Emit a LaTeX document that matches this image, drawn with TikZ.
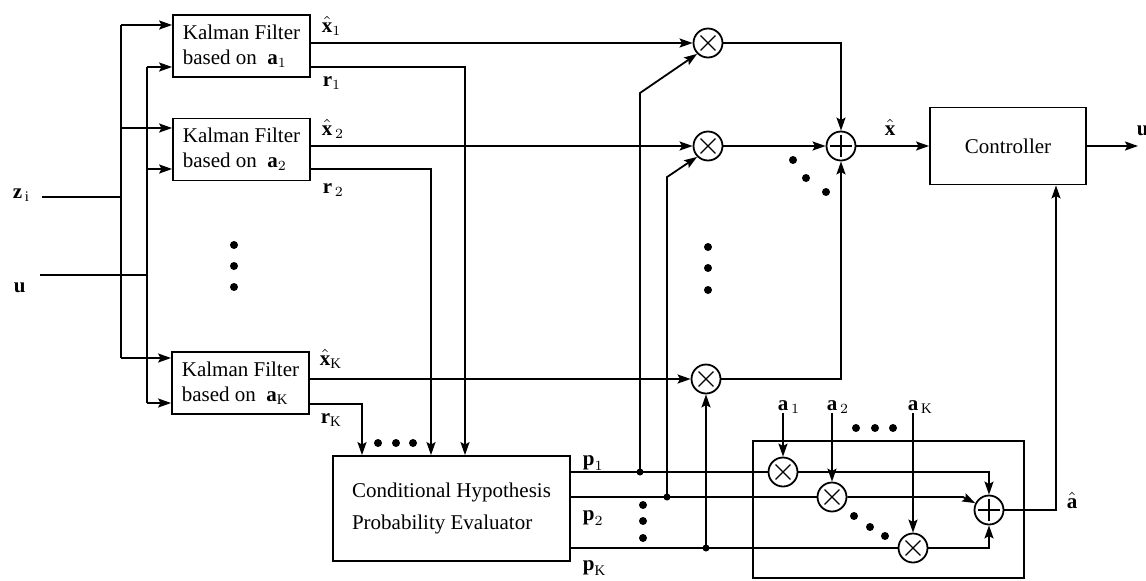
\documentclass[tikz,border=0pt]{standalone}
\usepackage{amsmath}
\usepackage{fontspec}
\setmainfont{Liberation Serif}
\usepackage{tikz}
\usetikzlibrary{shapes.geometric, arrows.meta, positioning}

\begin{document}
\begin{tikzpicture}[x=0.5pt, y=-0.5pt, line width=0.9pt, every node/.style={font=\fontsize{10.5}{12.5}\selectfont}]
        \tikzstyle{filter} = [rectangle, minimum width=68.5pt, minimum height=31pt, align=left, inner xsep=2.5pt, draw=black]
        \tikzstyle{block} = [rectangle, text centered, draw=black]
        \tikzstyle{mult} = [circle, minimum size=14.5pt, inner sep=0pt, draw=black, path picture={\draw[semithick] ([shift={(-3.7pt,-3.7pt)}]path picture bounding box.center) -- ([shift={(3.7pt,3.7pt)}]path picture bounding box.center); \draw[semithick] ([shift={(-3.7pt,3.7pt)}]path picture bounding box.center) -- ([shift={(3.7pt,-3.7pt)}]path picture bounding box.center);}]
        \tikzstyle{summer} = [circle, minimum size=14.5pt, inner sep=0pt, draw=black, path picture={\draw ([xshift=-5.5pt]path picture bounding box.center) -- ([xshift=5.5pt]path picture bounding box.center); \draw ([yshift=-5.5pt]path picture bounding box.center) -- ([yshift=5.5pt]path picture bounding box.center);}]
        \tikzstyle{lbl} = [inner sep=0pt, anchor=base west]
        \tikzstyle{arrow} = [->,>={Stealth[length=6.5pt,width=4.5pt,inset=1.2pt]}]

        \useasboundingbox (0,0) rectangle (1146,580);

        \node (kf1) [filter] at (241.5,46) {Kalman Filter\\based on\ \ $\textbf{a}_1$};
        \node (kf2) [filter] at (241.5,149.5) {Kalman Filter\\based on\ \ $\textbf{a}_2$};
        \node (kfK) [filter] at (240.5,383) {Kalman Filter\\based on\ \ $\textbf{a}_{\mathrm{K}}$};
        \node (chpe) [block, minimum width=118.5pt, minimum height=52.5pt, align=left] at (451.5,508.5) {Conditional Hypothesis\\[3.5pt]Probability Evaluator};
        \node (ctrl) [block, minimum width=78pt, minimum height=38.5pt] at (1008,146) {Controller};

        \node (m1) [mult] at (708,43) {};
        \node (m2) [mult] at (708,146) {};
        \node (mK) [mult] at (706,379) {};
        \node (sum) [summer] at (841,146) {};

        \node (am1) [mult] at (783,472) {};
        \node (am2) [mult] at (832,497) {};
        \node (amK) [mult] at (913,548) {};
        \node (asum) [summer] at (989,510) {};
        \draw (753,441) rectangle (1024,578);

        \coordinate (zin) at (42,197);
        \coordinate (uin) at (40,275);
        \coordinate (zb1) at (121,25);
        \coordinate (zb2) at (121,128);
        \coordinate (zbK) at (121,358);
        \coordinate (ub1) at (147,67);
        \coordinate (ub2) at (147,169);
        \coordinate (ubK) at (147,403);
        \coordinate (r1) at (465,67);
        \coordinate (r2) at (431,169);
        \coordinate (rK) at (362,404);
        \coordinate (j1) at (640,472);
        \coordinate (j2) at (667,497);
        \coordinate (jK) at (706,548);
        \coordinate (b1) at (640,93);
        \coordinate (b2) at (667,177);
        \coordinate (xs) at (841,43);
        \coordinate (xsK) at (841,379);
        \coordinate (uout) at (1138,146);
        \coordinate (a1) at (783,413);
        \coordinate (a2) at (832,413);
        \coordinate (aK) at (913,413);
        \coordinate (as1) at (989,472);
        \coordinate (as2) at (963,497);
        \coordinate (asK) at (989,548);
        \coordinate (ah) at (1056,510);

        \draw (zin) -- (zin -| zb1);
        \draw (zb1) -- (zbK);
        \draw [arrow] (zb1) -- (zb1 -| kf1.west);
        \draw [arrow] (zb2) -- (zb2 -| kf2.west);
        \draw [arrow] (zbK) -- (zbK -| kfK.west);
        \draw (uin) -- (uin -| ub1);
        \draw (ub1) -- (ubK);
        \draw [arrow] (ub1) -- (ub1 -| kf1.west);
        \draw [arrow] (ub2) -- (ub2 -| kf2.west);
        \draw [arrow] (ubK) -- (ubK -| kfK.west);

        \draw [arrow] (kf1.east |- m1) -- (m1);
        \draw [arrow] (kf2.east |- m2) -- (m2);
        \draw [arrow] (kfK.east |- mK) -- (mK);
        \draw [arrow] (kf1.east |- r1) -- (r1) -- (r1 |- chpe.north);
        \draw [arrow] (kf2.east |- r2) -- (r2) -- (r2 |- chpe.north);
        \draw [arrow] (kfK.east |- rK) -- (rK) -- (rK |- chpe.north);

        \draw (chpe.east |- j1) -- (am1);
        \draw (chpe.east |- j2) -- (am2);
        \draw (chpe.east |- jK) -- (amK);
        \draw [arrow] (j1) -- (b1) -- (m1.south west);
        \draw [arrow] (j2) -- (b2) -- (m2.south west);
        \draw [arrow] (jK) -- (mK);
        \fill (j1) circle (3.5) (j2) circle (3.5) (jK) circle (3.5);

        \draw [arrow] (m1) -- (xs) -- (sum);
        \draw [arrow] (m2) -- (sum);
        \draw [arrow] (mK) -- (xsK) -- (sum);
        \draw [arrow] (sum) -- (ctrl);
        \draw [arrow] (ctrl) -- (uout);

        \draw [arrow] (a1) -- (am1);
        \draw [arrow] (a2) -- (am2);
        \draw [arrow] (aK) -- (amK);
        \draw [arrow] (am1) -- (as1) -- (asum);
        \draw [arrow] (am2) -- (as2) -- (asum);
        \draw [arrow] (amK) -- (asK) -- (asum);
        \draw [arrow] (asum) -- (ah) -- (ah |- ctrl.south);

        \fill (234,245) circle (4) (234,266) circle (4) (234,287) circle (4);
        \fill (378,443) circle (4) (396,443) circle (4) (413,443) circle (4);
        \fill (643,505) circle (4) (643,521) circle (4) (643,538) circle (4);
        \fill (708,247) circle (4) (708,268) circle (4) (708,290) circle (4);
        \fill (793,160) circle (4) (806,178) circle (4) (826,192) circle (4);
        \fill (856,428) circle (4) (875,428) circle (4) (893,428) circle (4);
        \fill (854,516) circle (4) (870,527) circle (4) (885,536) circle (4);

        \node (lz) [lbl] at (12,198) {$\textbf{z}_{\,\mathrm{i}}$};
        \node (lu) [lbl] at (13,292) {\textbf{u}};
        \node (lx1) [lbl] at (321,32) {$\hat{\textbf{x}}_1$};
        \node (lr1) [lbl] at (322,86) {$\textbf{r}_1$};
        \node (lx2) [lbl] at (321,135) {$\hat{\textbf{x}}_{\,2}$};
        \node (lr2) [lbl] at (322,193) {$\textbf{r}_{\,2}$};
        \node (lxK) [lbl] at (319,365) {$\hat{\textbf{x}}_{\mathrm{K}}$};
        \node (lrK) [lbl] at (320,423) {$\textbf{r}_{\mathrm{K}}$};
        \node (lp1) [lbl] at (582,465) {$\textbf{p}_1$};
        \node (lp2) [lbl] at (582,520) {$\textbf{p}_2$};
        \node (lpK) [lbl] at (582,570) {$\textbf{p}_{\mathrm{K}}$};
        \node (lx) [lbl] at (884,135) {$\hat{\textbf{x}}$};
        \node (luo) [lbl] at (1136,135) {\textbf{u}};
        \node (lah) [lbl] at (1066,508) {$\hat{\textbf{a}}$};
        \node (la1) [lbl] at (777,410) {$\textbf{a}_{\,1}$};
        \node (la2) [lbl] at (826,410) {$\textbf{a}_{\,2}$};
        \node (laK) [lbl] at (907,410) {$\textbf{a}_{\,\mathrm{K}}$};
\end{tikzpicture}
\end{document}
